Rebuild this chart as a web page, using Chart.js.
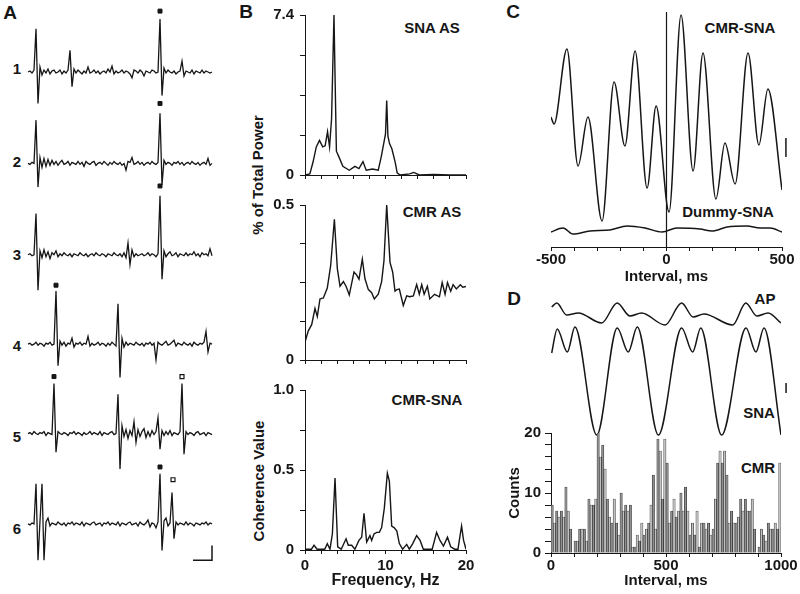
<!DOCTYPE html>
<html><head><meta charset="utf-8"><title>Figure</title>
<script src="https://cdn.jsdelivr.net/npm/chart.js@4.4.1/dist/chart.umd.min.js"></script>
<style>
html,body{margin:0;padding:0;background:#fff;}
body{width:800px;height:594px;position:relative;overflow:hidden;font-family:'Liberation Sans',Arial,Helvetica,sans-serif;}
canvas{position:absolute;}
.lbl{position:absolute;font-weight:bold;color:#161616;white-space:nowrap;line-height:1;transform:translate(-50%,-50%);font-size:15px;}
.big{font-size:19px;}
.rot{transform:translate(-50%,-50%) rotate(-90deg);}
</style></head><body>
<div class="lbl big" style="left:10px;top:12px">A</div>
<div class="lbl big" style="left:246px;top:11px">B</div>
<div class="lbl big" style="left:513px;top:11px">C</div>
<div class="lbl big" style="left:514px;top:298px">D</div>
<div class="lbl" style="left:17px;top:68px">1</div>
<div class="lbl" style="left:17px;top:161px">2</div>
<div class="lbl" style="left:17px;top:254px">3</div>
<div class="lbl" style="left:17px;top:345px">4</div>
<div class="lbl" style="left:17px;top:436px">5</div>
<div class="lbl" style="left:17px;top:528px">6</div>
<div class="lbl" style="left:432px;top:27px">SNA AS</div>
<div class="lbl" style="left:432px;top:211px">CMR AS</div>
<div class="lbl" style="left:427px;top:399px">CMR-SNA</div>
<div class="lbl rot" style="left:257px;top:175px">% of Total Power</div>
<div class="lbl rot" style="left:258px;top:481px">Coherence Value</div>
<div class="lbl" style="left:740px;top:27px">CMR-SNA</div>
<div class="lbl" style="left:728px;top:211px">Dummy-SNA</div>
<div class="lbl" style="left:765px;top:298px">AP</div>
<div class="lbl" style="left:759px;top:412px">SNA</div>
<div class="lbl" style="left:758px;top:467px">CMR</div>
<script>
const FONT = "'Liberation Sans', Arial, Helvetica, sans-serif";
const INK = '#161616';

// ---------- Panel A: six raw sweeps (sample index, amplitude) ----------
const sweepNames = ['1','2','3','4','5','6'];
const sweep1 = [0,1,-1,2,44,-32,5,-3,2,-1, 3,-2,1,2,-1,0,2,-2,1,-1, 2,22,-15,3,-1,2,0,-2,1,-1, 5,-1,0,2,-1,1,-2,0,1,-1, 3,0,6,-2,1,-1,0,2,-1,1, 0,-2,-6,2,1,-1,2,0,-4,1, 0,-1,2,1,-1,0,54,-24,4,-1, 2,0,-1,1,-2,0,1,11,-4,1, 0,-1,2,-2,1,0,-1,2,-1,1, 0,-1,0];
const sweep2 = [0,-1,1,0,44,-24,6,-4,5,-3, 4,-2,3,-1,2,-2,1,3,-1,0, 2,-2,1,0,-1,2,-1,1,-3,2, 0,-1,1,2,-2,0,1,-1,2,0, -2,1,-1,2,0,-1,1,-2,0,-7, 2,1,6,-1,0,2,-1,1,-2,0, 1,-1,2,0,-1,1,51,-22,3,-1, 1,0,-2,1,0,2,-1,1,-2,0, 1,-1,2,0,-1,1,-2,0,1,-1, 5,-2,0];
const sweep3 = [0,1,-1,0,42,-36,4,-3,5,-2, 3,-4,2,0,4,-2,1,-1,2,0, -1,1,-2,1,0,-1,2,0,-1,1, -2,0,1,-1,2,0,-1,1,0,-2, 1,0,-1,2,0,-1,1,-2,2,-3, 12,-10,5,-2,1,-1,0,1,-1,0, 2,-1,1,0,-2,1,60,-25,4,-2, 1,3,-1,0,2,-2,1,0,-1,2, -1,1,0,3,-1,1,-2,2,0,1, -1,6,-1];
const sweep4 = [0,1,-1,0,2,-1,1,0,-2,1, 0,2,-1,0,54,-22,3,-1,2,-2, 1,0,6,-3,1,0,2,-1,1,0, 8,-2,1,-1,0,2,-1,1,0,-2, 1,-1,2,0,-2,41,-34,6,-3,2, -1,1,0,-1,2,0,-1,1,-2,1, 0,2,-1,1,-16,2,0,-1,1,3, -1,0,2,4,-2,1,0,-1,2,0, -1,1,-2,2,0,-1,1,0,2,13, -8,1,0];
const sweep5 = [0,1,-1,2,0,-1,1,0,2,-2, 1,0,-1,51,-19,2,0,-1,1,0, -2,1,0,2,-1,1,0,-2,1,-1, 0,2,-1,1,0,-1,2,-2,1,0, -1,1,2,-1,0,40,-36,8,-3,4, -5,3,-2,12,-9,4,-3,2,5,-4, 2,-3,3,-1,2,16,-16,3,-2,2, -1,3,-2,1,0,-1,2,51,-21,2, -1,1,0,-2,1,2,-1,0,1,-2, 1,0,-1];
const sweep6 = [0,-1,1,0,41,-37,3,41,-37,2, 6,-2,1,0,-1,2,0,-1,1,-2, 1,0,2,-1,1,0,-1,2,-2,1, 0,-1,1,2,-1,0,1,-2,1,0, 2,-1,1,0,-1,2,-2,1,0,-1, 1,2,-1,0,1,-2,2,0,-1,1, 4,-3,1,0,-4,2,51,-27,3,6, -2,1,32,-15,2,-1,1,0,-1,2, -1,1,0,-2,1,0,-1,1,0,2, -1,1,0];
const sweeps = [sweep1, sweep2, sweep3, sweep4, sweep5, sweep6];
const taggedSweep  = [1,2,3,4,5,6];
const taggedSample = [66,66,66,14,13,66];
const taggedLevel  = [62,61,70,60,58,58];
const openTagSweep  = [5,6];
const openTagSample = [77,72.5];
const openTagLevel  = [58,45];
const scaleBarASample = [82.5,92,92];
const scaleBarALevel  = [-37,-37,-22];

// ---------- Panel B: spectra ----------
const freqTicks = [0,2,4,6,8,10,12,14,16,18,20];
const freqTickLabels = ['0','','','','','10','','','','','20'];
const freqSNA = [0,0.6,1.0,1.4,1.8,2.2,2.5,2.8,3.05,3.3,3.45,3.6,3.75,3.9,4.2,4.7,5.5,6.2,6.7,7.2,7.6,8.4,9.1,9.5,9.8,10.0,10.15,10.3,10.5,10.8,11.2,11.45,11.8,13.0,13.5,14.2,16,18,20];
const powerSNA = [0,0.05,0.6,1.3,1.6,1.3,1.35,2.0,1.3,2.6,5.0,7.4,4.2,1.1,0.85,0.4,0.22,0.4,0.3,0.62,0.22,0.28,0.22,0.9,1.5,1.9,3.45,1.8,1.45,1.2,0.6,0.1,0,0.05,0.12,0,0.02,0,0];
const ticksSNA = [0,1.85,3.7,5.55,7.4];
const labelsSNA = ['0','','','','7.4'];
const freqCMR = [0,0.41,0.83,1.24,1.53,1.86,2.28,2.77,3.19,3.65,4.02,4.35,4.77,5.1,5.5,6.09,6.42,6.71,7.12,7.45,7.87,8.28,8.61,9.1,9.52,9.81,10.15,10.56,10.89,11.18,11.4,11.72,12.21,12.63,13.0,13.46,13.87,14.2,14.5,14.8,15.2,15.5,16.1,16.7,17.04,17.4,17.7,18.1,18.4,18.8,19.3,19.6,20];
const powerCMR = [0.058,0.094,0.114,0.166,0.14,0.197,0.2,0.232,0.305,0.454,0.294,0.238,0.253,0.238,0.21,0.284,0.274,0.261,0.325,0.262,0.227,0.217,0.197,0.212,0.253,0.32,0.5,0.315,0.284,0.222,0.227,0.229,0.176,0.207,0.204,0.207,0.243,0.212,0.243,0.212,0.238,0.197,0.212,0.204,0.25,0.212,0.25,0.222,0.243,0.229,0.243,0.235,0.237];
const ticksCMR = [0,0.125,0.25,0.375,0.5];
const labelsCMR = ['0','','','','0.5'];
const freqCoh = [0,0.8,1.12,1.5,2.45,2.77,3.1,3.4,3.73,4.06,4.5,5.1,5.38,5.8,6.2,6.7,7.04,7.33,7.66,8.07,8.28,8.57,8.9,9.23,9.52,9.85,10.23,10.48,10.77,11.06,11.4,11.72,12.13,12.63,12.96,13.38,13.87,14.3,14.7,15.8,16.35,16.77,17.2,17.7,18.1,18.6,19.0,19.45,19.7,20];
const coherence = [0.005,0.005,0.03,0.005,0.005,0.04,0.005,0.1,0.45,0.02,0.005,0.07,0.03,0.03,0.005,0.06,0.08,0.23,0.05,0.09,0.06,0.1,0.11,0.11,0.14,0.26,0.48,0.43,0.15,0.14,0.12,0.04,0.005,0.035,0.005,0.04,0.09,0.06,0.005,0.005,0.11,0.06,0.025,0.08,0.02,0.005,0.005,0.15,0.06,0.005];
const ticksCoh = [0,0.25,0.5,0.75,1.0];
const labelsCoh = ['0','','0.5','','1.0'];

// ---------- Panel C: cross-correlograms ----------
const lagTicks = [-500,-400,-300,-200,-100,0,100,200,300,400,500];
const lagTickLabels = ['-500','','','','','0','','','','','500'];
const lagMs = [-500,-487,-431,-383,-340,-279,-227,-180,-136,-84,-45,11,63,115,158,214,253,297,353,400,439,500];
const cmrSna = [130,123,198,81,130,26,165,101,196,59,141,35,232,76,194,48,104,63,194,102,158,57];
const dummyLagMs = [-500,-448,-405,-331,-245,-171,-93,-19,45,145,197,262,348,405,448,500];
const dummySna = [15,19,13,16,17,21,19,15,19,18,16,20,21,19,19,15];
const zeroLagLine = [0,235];
const scaleBarCLag = [517,517];
const scaleBarCLevel = [90,109];

// ---------- Panel D: spike-triggered averages and CMR histogram ----------
const apMs  = [3,25,68,119,220,288,343,394,496,568,618,665,790,847,895,944,1000];
const apAvg = [143,147,135,137,127,147,134,137,125,147,133,136,125,147,134,137,127];
const snaMs  = [3,27,71,104,199,288,336,375,467,568,616,651,742,848,891,926,1000];
const snaAvg = [97,121,98,123,15,122,98,123,15,122,98,122,15,122,98,122,15];
const scaleBarDMs = [1022,1022];
const scaleBarDLevel = [57,67];
const binWidthMs = 10;
const cmrCounts = [8,5,7,6,7,6,11,7,4,0, 2,2,4,4,4,2,9,8,8,9, 20,16,18,14,9,6,5,9,5,3, 10,7,8,7,8,1,1,3,2,5, 3,4,5,8,13,4,19,17,9,19, 15,5,7,9,6,7,10,7,11,7, 3,5,3,7,1,5,5,4,5,3, 4,9,15,17,15,17,13,5,7,5, 5,6,9,7,9,7,7,9,4,0, 1,4,3,2,5,4,4,5,4,15];
const intervalTicks = [0,100,200,300,400,500,600,700,800,900,1000];
const intervalTickLabels = ['0','','','','','500','','','','','1000'];
const countTicks = [0,2,4,6,8,10,12,14,16,18,20];
const countTickLabels = ['0','','','','','10','','','','','20'];

// ---------- helpers ----------
function mk(left, top, w, h) {
  const c = document.createElement('canvas');
  c.width = w; c.height = h;
  c.style.left = left + 'px'; c.style.top = top + 'px';
  c.style.width = w + 'px'; c.style.height = h + 'px';
  document.body.appendChild(c);
  return c;
}
const pts = (xs, ys) => xs.map((x, i) => ({x: x, y: ys[i]}));
const tickFont = {family: FONT, size: 15, weight: 'bold'};
const baseOpts = {responsive: false, animation: false, devicePixelRatio: 1,
  plugins: {legend: {display: false}, tooltip: {enabled: false}}};
function axis(min, max, tickVals, tickLabels, extra) {
  return Object.assign({
    type: 'linear', min: min, max: max,
    afterBuildTicks: s => { s.ticks = tickVals.map(v => ({value: v})); },
    ticks: {callback: (v, i) => tickLabels[i], autoSkip: false, maxRotation: 0, color: INK, font: tickFont, padding: 3},
    grid: {drawOnChartArea: false, drawTicks: true, tickLength: 4, color: INK, lineWidth: 1},
    border: {display: true, color: INK, width: 1}
  }, extra || {});
}

// ---------- Panel A chart ----------
const rowBase = [68,161,254,345,436,528];
const aScales = {x: {type: 'linear', display: false, min: 0, max: 92}};
rowBase.forEach((b, k) => { aScales['y' + k] = {type: 'linear', display: false, min: b - 594, max: b}; });
const aSets = [];
sweeps.forEach((sw, k) => {
  aSets.push({data: sw.map((v, i) => ({x: i, y: v})), yAxisID: 'y' + k, borderColor: INK, borderWidth: 1.3, pointRadius: 0, tension: 0, clip: false});
  const f = []; taggedSweep.forEach((s, j) => { if (s === k + 1) f.push({x: taggedSample[j], y: taggedLevel[j]}); });
  const o = []; openTagSweep.forEach((s, j) => { if (s === k + 1) o.push({x: openTagSample[j], y: openTagLevel[j]}); });
  if (f.length) aSets.push({data: f, yAxisID: 'y' + k, showLine: false, pointStyle: 'rect', pointRadius: 2.8, backgroundColor: INK, borderColor: INK, borderWidth: 1, clip: false});
  if (o.length) aSets.push({data: o, yAxisID: 'y' + k, showLine: false, pointStyle: 'rect', pointRadius: 2.8, backgroundColor: '#fff', borderColor: INK, borderWidth: 1.2, clip: false});
});
aSets.push({data: pts(scaleBarASample, scaleBarALevel), yAxisID: 'y5', borderColor: INK, borderWidth: 1.5, pointRadius: 0, tension: 0, clip: false});
new Chart(mk(0, 0, 240, 594), {type: 'line', data: {datasets: aSets},
  options: Object.assign({}, baseOpts, {layout: {padding: {left: 28, right: 28, top: 0, bottom: 0}}, scales: aScales})});

// ---------- Panel B charts ----------
function spectrum(canvas, fx, fy, yMax, yT, yL, showX, xH, padTop) {
  return new Chart(canvas, {type: 'line',
    data: {datasets: [{data: pts(fx, fy), borderColor: INK, borderWidth: 1.4, pointRadius: 0, tension: 0}]},
    options: Object.assign({}, baseOpts, {
      layout: {padding: {left: 0, right: 14, top: padTop, bottom: 0}},
      scales: {
        x: axis(0, 20, freqTicks, freqTickLabels, {
          afterFit: s => { s.height = xH; },
          ticks: {display: showX, callback: (v, i) => freqTickLabels[i], autoSkip: false, maxRotation: 0, color: INK, font: tickFont, padding: 3},
          title: {display: showX, text: 'Frequency, Hz', color: INK, font: {family: FONT, size: 16, weight: 'bold'}, padding: {top: 0, bottom: 4}}
        }),
        y: axis(0, yMax, yT, yL, {
          afterFit: s => { s.width = 65; },
          ticks: {callback: (v, i) => yL[i], autoSkip: false, color: INK, font: tickFont, padding: 6},
          grid: {drawOnChartArea: false, drawTicks: true, tickLength: 5, color: INK, lineWidth: 1}
        })
      }
    })});
}
spectrum(mk(240, 0, 240, 190), freqSNA, powerSNA, 7.4, ticksSNA, labelsSNA, false, 13, 15);
spectrum(mk(240, 190, 240, 185), freqCMR, powerCMR, 0.5, ticksCMR, labelsCMR, false, 13, 10);
spectrum(mk(240, 375, 240, 219), freqCoh, coherence, 1.0, ticksCoh, labelsCoh, true, 44, 13);

// ---------- Panel C chart ----------
const curve = {borderColor: INK, borderWidth: 1.5, pointRadius: 0, cubicInterpolationMode: 'monotone'};
new Chart(mk(530, 0, 270, 290), {type: 'line',
  data: {datasets: [
    Object.assign({data: pts(lagMs, cmrSna)}, curve),
    Object.assign({data: pts(dummyLagMs, dummySna)}, curve),
    {data: pts([0, 0], zeroLagLine), borderColor: INK, borderWidth: 1.2, pointRadius: 0, tension: 0, clip: false},
    {data: pts(scaleBarCLag, scaleBarCLevel), borderColor: INK, borderWidth: 1.5, pointRadius: 0, tension: 0, clip: false}
  ]},
  options: Object.assign({}, baseOpts, {
    layout: {padding: {left: 21, right: 18, top: 12, bottom: 0}},
    scales: {
      x: axis(-500, 500, lagTicks, lagTickLabels, {
        afterFit: s => { s.height = 43; },
        ticks: {callback: (v, i) => lagTickLabels[i], autoSkip: false, maxRotation: 0, color: INK, font: tickFont, padding: 0},
        title: {display: true, text: 'Interval, ms', color: INK, font: {family: FONT, size: 15, weight: 'bold'}, padding: {top: 0, bottom: 4}}
      }),
      y: {type: 'linear', display: false, min: 0, max: 235}
    }
  })});

// ---------- Panel D: averaged waveforms ----------
new Chart(mk(530, 290, 270, 160), {type: 'line',
  data: {datasets: [
    Object.assign({data: pts(apMs, apAvg)}, curve),
    Object.assign({data: pts(snaMs, snaAvg)}, curve),
    {data: pts(scaleBarDMs, scaleBarDLevel), borderColor: INK, borderWidth: 1.5, pointRadius: 0, tension: 0, clip: false}
  ]},
  options: Object.assign({}, baseOpts, {
    layout: {padding: {left: 21, right: 19, top: 0, bottom: 0}},
    scales: {x: {type: 'linear', display: false, min: 0, max: 1000}, y: {type: 'linear', display: false, min: 0, max: 160}}
  })});

// ---------- Panel D: CMR histogram ----------
new Chart(mk(505, 420, 295, 174), {type: 'bar',
  data: {datasets: [{
    data: cmrCounts.map((c, i) => ({x: (i + 0.5) * binWidthMs, y: c})),
    backgroundColor: ctx => (ctx.dataIndex % 2 ? '#c2c2c2' : '#8f8f8f'),
    borderColor: '#262626', borderWidth: 0.6, barPercentage: 1, categoryPercentage: 1
  }]},
  options: Object.assign({}, baseOpts, {
    layout: {padding: {left: 0, right: 19, top: 12, bottom: 0}},
    scales: {
      x: axis(0, 1000, intervalTicks, intervalTickLabels, {
        offset: false,
        afterFit: s => { s.height = 41; },
        ticks: {callback: (v, i) => intervalTickLabels[i], autoSkip: false, maxRotation: 0, color: INK, font: tickFont, padding: 0},
        grid: {drawOnChartArea: false, drawTicks: true, tickLength: 4, color: INK, lineWidth: 1, offset: false},
        title: {display: true, text: 'Interval, ms', color: INK, font: {family: FONT, size: 15, weight: 'bold'}, padding: {top: 0, bottom: 4}}
      }),
      y: axis(0, 20, countTicks, countTickLabels, {
        afterFit: s => { s.width = 46; },
        ticks: {callback: (v, i) => countTickLabels[i], autoSkip: false, color: INK, font: tickFont, padding: 4},
        grid: {drawOnChartArea: false, drawTicks: true, tickLength: 6, color: INK, lineWidth: 1},
        title: {display: true, text: 'Counts', color: INK, font: {family: FONT, size: 15, weight: 'bold'}, padding: {top: 1, bottom: 0}}
      })
    }
  })});
</script></body></html>
